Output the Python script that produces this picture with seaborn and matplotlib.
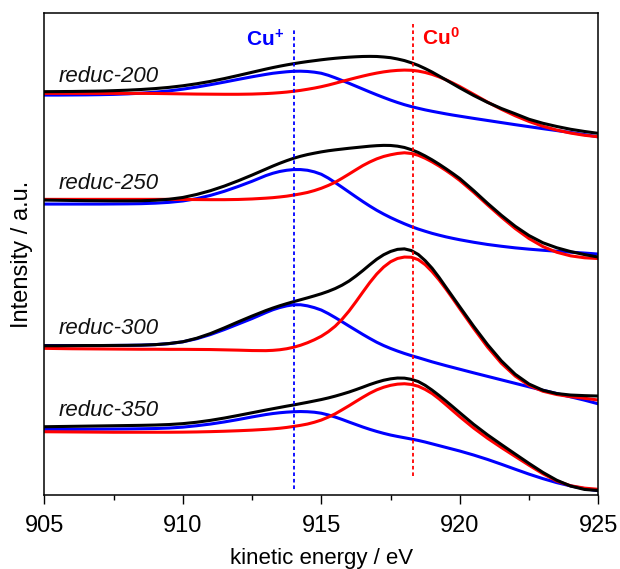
import matplotlib
matplotlib.use("Agg")
import matplotlib.pyplot as plt
import seaborn as sns
import pandas as pd

# Kinetic energy grid (eV): 0.5 eV steps in the wings, 0.25 eV across the peaks
energy = [905.0, 905.5, 906.0, 906.5, 907.0, 907.5, 908.0, 908.5,
          909.0, 909.5, 910.0, 910.5, 911.0, 911.5, 912.0, 912.5,
          913.0, 913.25, 913.5, 913.75, 914.0, 914.25, 914.5, 914.75,
          915.0, 915.25, 915.5, 915.75, 916.0, 916.25, 916.5, 916.75,
          917.0, 917.25, 917.5, 917.75, 918.0, 918.25, 918.5, 918.75,
          919.0, 919.25, 919.5, 919.75, 920.0,
          920.5, 921.0, 921.5, 922.0, 922.5, 923.0, 923.5, 924.0, 924.5, 925.0]

# Stacked Auger spectra (a.u., vertically offset): envelope, Cu+ and Cu0 components
reduc200_total = [403.4, 403.5, 403.6, 403.8, 404.0, 404.4, 404.9, 405.6,
                  406.5, 407.7, 409.3, 411.3, 413.7, 416.5, 419.6, 422.8,
                  426.0, 427.5, 428.9, 430.2, 431.4, 432.5, 433.5, 434.4,
                  435.3, 436.1, 436.8, 437.4, 437.9, 438.3, 438.6, 438.7,
                  438.6, 438.1, 437.4, 436.1, 434.5, 432.3, 429.7, 426.5,
                  423.0, 419.1, 415.2, 411.2, 407.2,
                  399.6, 392.7, 386.6, 381.3, 375.8, 371.8, 368.6, 365.8, 363.6, 361.7]
reduc200_cu1 = [400.0, 400.0, 400.1, 400.2, 400.4, 400.7, 401.2, 401.9,
                402.9, 404.2, 405.9, 408.0, 410.4, 413.0, 415.7, 418.3,
                420.7, 421.8, 422.6, 423.3, 423.8, 423.9, 423.6, 422.9,
                421.8, 419.8, 417.3, 414.6, 411.8, 408.9, 406.0, 403.1,
                400.3, 397.6, 395.0, 392.6, 390.4, 388.5, 386.8, 385.2,
                383.8, 382.5, 381.2, 380.0, 378.9,
                376.7, 374.6, 372.5, 370.4, 368.4, 366.4, 364.5, 362.6, 360.5, 358.2]
reduc200_cu0 = [401.7, 401.7, 401.7, 401.7, 401.7, 401.7, 401.7, 401.7,
                401.6, 401.4, 401.2, 401.0, 400.9, 400.8, 400.8, 401.0,
                401.5, 401.9, 402.4, 403.0, 403.8, 404.7, 405.8, 407.0,
                408.4, 410.0, 411.8, 413.7, 415.5, 417.3, 419.0, 420.6,
                422.0, 423.2, 424.1, 424.7, 425.0, 424.8, 424.0, 422.6,
                420.7, 418.2, 415.3, 412.0, 408.5,
                400.8, 393.0, 385.8, 379.3, 373.6, 368.8, 365.0, 362.0, 359.8, 358.3]

reduc250_total = [295.0, 294.8, 294.6, 294.4, 294.3, 294.2, 294.2, 294.3,
                  294.8, 295.8, 297.6, 300.6, 304.4, 309.0, 314.3, 320.0,
                  326.0, 329.0, 331.8, 334.4, 336.8, 338.8, 340.5, 341.9,
                  343.2, 344.3, 345.2, 346.0, 346.8, 347.5, 348.2, 348.9,
                  349.4, 349.7, 349.6, 348.9, 347.6, 345.4, 342.6, 339.1,
                  335.2, 330.9, 326.3, 321.5, 316.5,
                  304.5, 291.8, 279.8, 268.8, 259.5, 252.3, 247.3, 243.5, 240.5, 238.0]
reduc250_cu1 = [291.0, 291.0, 291.0, 291.0, 291.0, 291.1, 291.2, 291.4,
                291.9, 292.7, 294.1, 296.4, 299.7, 303.8, 308.6, 313.8,
                319.5, 321.8, 323.6, 324.8, 325.5, 325.5, 324.8, 323.2,
                320.8, 317.0, 312.5, 307.8, 303.0, 298.2, 293.5, 289.0,
                284.8, 281.0, 277.5, 274.3, 271.3, 268.5, 266.0, 263.8,
                261.7, 259.9, 258.2, 256.7, 255.3,
                252.8, 250.6, 248.8, 247.2, 245.9, 244.8, 243.8, 242.9, 242.0, 241.0]
reduc250_cu0 = [295.7, 295.7, 295.7, 295.7, 295.7, 295.7, 295.7, 295.7,
                295.7, 295.7, 295.6, 295.5, 295.4, 295.4, 295.6, 296.1,
                296.9, 297.4, 298.1, 298.9, 300.0, 301.2, 302.6, 304.5,
                306.8, 309.6, 312.8, 316.8, 321.0, 325.3, 329.5, 333.1,
                336.2, 338.6, 340.3, 341.6, 342.3, 341.6, 339.8, 336.8,
                333.2, 329.1, 324.6, 319.8, 314.6,
                302.8, 290.2, 278.0, 266.5, 256.5, 248.5, 242.8, 239.2, 237.3, 236.5]

reduc300_total = [149.3, 149.3, 149.4, 149.5, 149.5, 149.6, 149.7, 149.9,
                  150.4, 151.5, 153.3, 156.8, 161.5, 167.2, 173.2, 179.0,
                  184.5, 187.0, 189.3, 191.4, 193.4, 195.3, 197.2, 199.2,
                  201.3, 203.7, 206.5, 209.9, 214.0, 219.0, 224.5, 230.3,
                  235.8, 240.3, 243.6, 245.7, 246.2, 244.5, 240.6, 234.4,
                  226.8, 217.7, 207.8, 198.0, 188.2,
                  168.8, 150.5, 134.2, 120.8, 111.0, 104.8, 101.5, 100.0, 99.4, 99.0]
reduc300_cu1 = [149.5, 149.5, 149.5, 149.5, 149.5, 149.6, 149.7, 149.9,
                150.4, 151.4, 153.2, 156.3, 160.5, 165.5, 171.0, 176.5,
                182.5, 185.3, 187.5, 189.2, 190.3, 190.3, 189.2, 187.4,
                185.0, 181.5, 177.5, 173.3, 169.0, 164.8, 160.6, 156.6,
                152.8, 149.5, 146.6, 144.0, 141.6, 139.4, 137.4, 135.3,
                133.2, 131.3, 129.4, 127.6, 125.8,
                122.2, 118.7, 115.2, 111.7, 108.2, 104.8, 101.5, 98.2, 94.9, 91.2]
reduc300_cu0 = [146.7, 146.5, 146.3, 146.2, 146.1, 146.0, 145.9, 145.8,
                145.8, 145.7, 145.7, 145.6, 145.5, 145.2, 144.9, 144.5,
                144.4, 144.7, 145.3, 146.3, 147.8, 149.8, 152.3, 155.3,
                158.8, 163.3, 168.8, 175.8, 184.0, 193.3, 203.0, 212.5,
                221.0, 228.0, 233.3, 236.6, 238.0, 237.8, 235.4, 230.4,
                223.4, 215.2, 206.0, 196.3, 186.3,
                166.7, 148.0, 131.8, 119.0, 109.6, 103.8, 100.5, 98.4, 96.8, 95.0]

reduc350_total = [68.3, 68.5, 68.7, 68.9, 69.1, 69.3, 69.5, 69.7,
                  70.0, 70.5, 71.4, 72.8, 74.7, 77.0, 79.6, 82.3,
                  85.0, 86.3, 87.6, 88.9, 90.1, 91.4, 92.7, 94.1,
                  95.5, 97.1, 98.9, 100.9, 103.0, 105.4, 107.9, 110.5,
                  112.8, 114.8, 116.2, 117.0, 116.9, 115.7, 113.5, 109.7,
                  104.9, 99.6, 94.0, 88.2, 82.3,
                  70.7, 60.2, 50.5, 41.0, 31.6, 22.6, 14.8, 9.0, 5.6, 4.5]
reduc350_cu1 = [65.7, 65.7, 65.7, 65.8, 65.9, 66.0, 66.1, 66.3,
                66.5, 67.0, 67.9, 69.3, 71.0, 73.1, 75.5, 78.1,
                80.5, 81.5, 82.3, 82.9, 83.3, 83.5, 83.3, 82.8,
                81.8, 80.1, 78.0, 75.6, 73.0, 70.5, 68.0, 65.7,
                63.6, 61.7, 60.0, 58.6, 57.3, 56.0, 54.6, 53.0,
                51.2, 49.4, 47.6, 45.8, 44.0,
                40.0, 35.6, 30.8, 25.8, 20.9, 16.4, 12.4, 9.1, 6.4, 4.3]
reduc350_cu0 = [63.3, 63.2, 63.1, 63.0, 62.9, 62.8, 62.8, 62.8,
                62.8, 62.8, 62.9, 63.1, 63.4, 63.8, 64.3, 64.9,
                65.7, 66.2, 66.8, 67.6, 68.6, 69.7, 71.0, 72.8,
                75.0, 77.9, 81.2, 85.2, 89.3, 93.6, 97.8, 101.8,
                105.2, 107.8, 109.7, 110.9, 111.3, 110.6, 108.8, 105.6,
                101.5, 96.2, 90.3, 84.3, 78.3,
                67.0, 56.8, 47.5, 38.6, 29.8, 21.3, 14.0, 9.3, 6.9, 5.7]

samples = ["reduc-200", "reduc-250", "reduc-300", "reduc-350"]
label_heights = [413.3, 305.7, 161.0, 79.3]
cu1_position = 914.0
cu0_position = 918.3

spectra = {
    "reduc-200": (reduc200_total, reduc200_cu1, reduc200_cu0),
    "reduc-250": (reduc250_total, reduc250_cu1, reduc250_cu0),
    "reduc-300": (reduc300_total, reduc300_cu1, reduc300_cu0),
    "reduc-350": (reduc350_total, reduc350_cu1, reduc350_cu0),
}

rows = []
for name in samples:
    total, cu1, cu0 = spectra[name]
    for comp, vals in (("Cu+", cu1), ("Cu0", cu0), ("total", total)):
        if len(vals) != len(energy):
            raise ValueError(f"{name} {comp}: {len(vals)} values for {len(energy)} energies")
        for e, v in zip(energy, vals):
            rows.append({"sample": name, "component": comp, "energy": e, "intensity": v})
df = pd.DataFrame(rows)

sns.set_theme(style="ticks")
plt.rcParams["font.family"] = ["Liberation Sans", "DejaVu Sans"]
plt.rcParams["mathtext.fontset"] = "custom"
plt.rcParams["mathtext.rm"] = "Liberation Sans"
plt.rcParams["mathtext.bf"] = "Liberation Sans:bold"
plt.rcParams["text.color"] = "#000000"
plt.rcParams["axes.labelcolor"] = "#000000"
plt.rcParams["xtick.color"] = "#000000"
plt.rcParams["lines.solid_capstyle"] = "round"
plt.rcParams["lines.solid_joinstyle"] = "round"

palette = {"Cu+": "#0000ff", "Cu0": "#ff0000", "total": "#000000"}

fig = plt.figure(figsize=(6.2, 5.69), dpi=100)
ax = fig.add_axes([0.0715, 0.130, 0.8935, 0.847])

for name in samples:
    sub = df[df["sample"] == name]
    sns.lineplot(data=sub, x="energy", y="intensity", hue="component",
                 hue_order=["Cu+", "Cu0", "total"], palette=palette,
                 estimator=None, sort=False, linewidth=2.2, legend=False, ax=ax)

# Reference positions of the Cu+ and Cu0 components
ax.plot([cu1_position, cu1_position], [6, 465], color="#0000ff", lw=1.3,
        linestyle=(0, (2.0, 1.6)))
ax.plot([cu0_position, cu0_position], [19, 471], color="#ff0000", lw=1.3,
        linestyle=(0, (2.0, 1.6)))
ax.text(912.28, 448.8, r"$\mathbf{Cu^{+}}$", color="#0000ff", fontsize=15,
        va="baseline", ha="left")
ax.text(918.62, 450.5, r"$\mathbf{Cu^{0}}$", color="#ff0000", fontsize=15,
        va="baseline", ha="left")

for name, h in zip(samples, label_heights):
    ax.text(905.5, h, name, fontsize=16, style="italic", va="baseline", ha="left",
            color="#111111")

ax.set_xlim(905, 925)
ax.set_ylim(0, 482)
ax.set_xticks([905, 910, 915, 920, 925])
ax.set_xticks([907.5, 912.5, 917.5, 922.5], minor=True)
ax.set_yticks([])
ax.tick_params(axis="x", which="major", direction="out", length=6.5, width=1.0,
               labelsize=17, pad=8, colors="#000000")
ax.tick_params(axis="x", which="minor", direction="out", length=3.6, width=1.0,
               colors="#000000")
for side in ("left", "right", "top", "bottom"):
    ax.spines[side].set_visible(True)
    ax.spines[side].set_linewidth(1.1)
    ax.spines[side].set_color("#000000")
ax.set_xlabel("kinetic energy / eV", fontsize=16, labelpad=8)
ax.set_ylabel("Intensity / a.u.", fontsize=17, labelpad=8)

fig.savefig("out.png", dpi=100)
